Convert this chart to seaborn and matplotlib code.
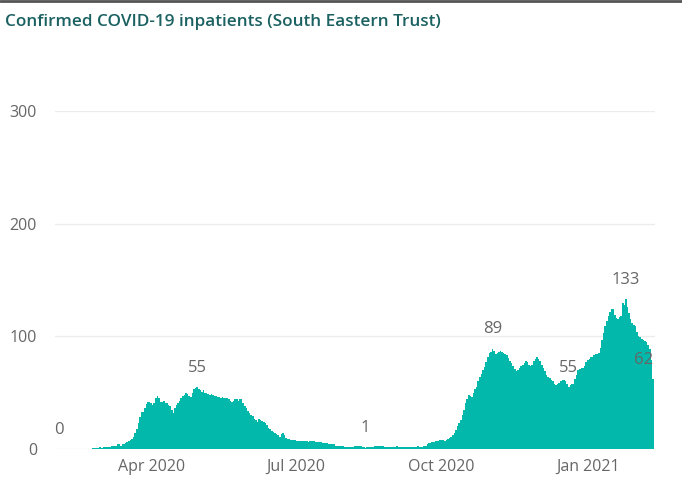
"""
Confirmed COVID-19 inpatients, South Eastern Trust - daily bar chart
"""

import numpy as np
import pandas as pd
import seaborn as sns
import matplotlib.pyplot as plt
from matplotlib.lines import Line2D

# Data (one value per day)
start_date = '2020-02-03'
inpatients = [0] * 21 + [
    1, 1, 1, 1, 1, 2, 1, 2, 2, 2, 2, 2, 3, 3,
    3, 3, 4, 4, 3, 4, 4, 5, 6, 7,
    8, 9, 11, 14, 18, 23, 28, 33,
    33, 36, 40, 42, 42, 41, 39, 41,
    45, 47, 45, 42, 42, 43, 41, 41, 39, 38,
    35, 32, 36, 39, 41, 43, 45, 47, 48, 50,
    49, 47, 46, 50, 53, 54, 55, 53, 52, 51,
    52, 50, 50, 49, 48, 49, 48, 47, 47, 46,
    46, 45, 46, 45, 45, 45, 44, 43, 42, 43,
    44, 44, 43, 44, 44, 41, 38, 36, 34, 32,
    30, 29, 27, 26, 24, 27, 26, 25, 24, 23,
    21, 19, 18, 16, 15, 14, 13, 12, 11, 13,
    14, 12, 10, 9, 9, 8, 8, 8, 8, 7,
    7, 7, 7, 7, 7, 7, 6, 7, 7, 7,
    7, 6, 6, 6, 6, 5, 5, 5, 5, 4,
    4, 4, 4, 3, 3, 3, 3, 3, 3, 2,
    2, 2, 2, 2, 2, 3, 3, 3, 3, 3,
    2, 2, 1, 2, 2, 2, 2, 2, 3, 3,
    3, 3, 3, 3, 2, 2, 2, 2, 2, 2,
    2, 2, 3, 2, 2, 2, 2, 2, 2, 2,
    2, 2, 2, 2, 2, 3, 2, 2, 2, 3,
    3, 4, 5, 5, 6, 6, 7, 7, 7, 8,
    8, 8, 7, 8, 9, 10, 11, 12, 14, 17,
    20, 23, 26, 30, 35, 41, 44, 48, 47, 46,
    50, 53, 55, 60, 64, 67, 70, 73, 77, 82,
    85, 86, 89, 87, 84, 85, 86, 87, 86, 85,
    84, 83, 81, 78, 76, 74, 71, 69, 70, 72,
    74, 75, 76, 78, 77, 75, 74, 75, 78, 80,
    82, 80, 78, 75, 72, 69, 66, 64, 63, 61,
    60, 58, 57, 58, 59, 60, 61, 61, 60, 58,
    55, 57, 58, 58, 62, 66, 70, 71, 72, 72,
    74, 77, 79, 80, 82, 82, 83, 84, 84, 85,
    90, 97, 103, 109, 114, 118, 122, 124, 124, 119,
    116, 115, 117, 118, 130, 128, 133, 126, 121, 115,
    112, 110, 109, 104, 100, 99, 98, 97, 96, 95,
    92, 89, 79, 62,
]
tick_months = ['2020-04-01', '2020-07-01', '2020-10-01', '2021-01-01']
tick_labels = ['Apr 2020', 'Jul 2020', 'Oct 2020', 'Jan 2021']
# days (counted from start_date) that carry a data label
labelled_days = [0, 87, 193, 273, 321, 357, 374]
y_ticks = [0, 100, 200, 300]

bar_color = '#01B8AA'
text_grey = '#666666'

dates = pd.date_range(start_date, periods=len(inpatients), freq='D')
df = pd.DataFrame({'day': np.arange(len(inpatients)), 'date': dates,
                   'inpatients': inpatients})

sns.set_style('white')
plt.rcParams['font.family'] = ['Open Sans', 'DejaVu Sans']

fig = plt.figure(figsize=(6.82, 4.83), dpi=100)
W, H = 682, 483
ax = fig.add_axes([55 / W, (H - 449) / H, 600 / W, 338 / H])

sns.barplot(data=df, x='day', y='inpatients', native_scale=True,
            color=bar_color, width=1.0, linewidth=0, saturation=1, ax=ax)

ax.set_xlim(-2.5, len(inpatients) + 0.3)
ax.set_ylim(0, 300)
ax.set_yticks(y_ticks)
ax.set_yticklabels([str(v) for v in y_ticks], fontsize=11.5, color=text_grey)

day_of = dict(zip(df['date'], df['day']))
ax.set_xticks([day_of[pd.Timestamp(m)] for m in tick_months])
ax.set_xticklabels(tick_labels, fontsize=11.5, color=text_grey)
ax.tick_params(axis='x', length=0, pad=7)
ax.tick_params(axis='y', length=0, pad=13)
ax.set_xlabel('')
ax.set_ylabel('')

for s in ax.spines.values():
    s.set_visible(False)
ax.grid(axis='y', color='#ececec', linewidth=1)
ax.set_axisbelow(True)

# data labels
for i in labelled_days:
    v = inpatients[i]
    ha = 'right' if i == len(inpatients) - 1 else 'center'
    ax.annotate(str(v), xy=(i, v), xytext=(0, 14), textcoords='offset points',
                ha=ha, va='center', fontsize=12, color=text_grey,
                annotation_clip=False)

fig.text(5 / W, 1 - 22 / H, 'Confirmed COVID-19 inpatients (South Eastern Trust)',
         fontsize=12.3, fontweight='semibold', color='#1b6161',
         ha='left', va='center')
fig.add_artist(Line2D([0, 1], [1 - 1 / H, 1 - 1 / H], color='#555555',
                      linewidth=2, transform=fig.transFigure))

plt.savefig('out.png', dpi=100)
plt.close()
